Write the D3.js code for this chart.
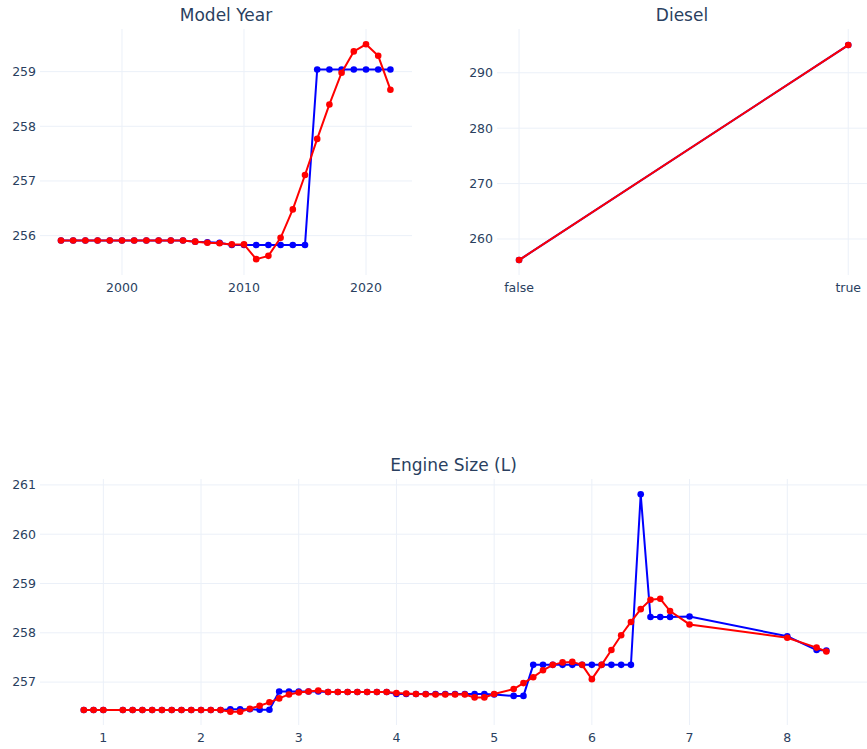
<!DOCTYPE html>
<html>
<head>
<meta charset="utf-8">
<script src="https://cdn.jsdelivr.net/npm/d3@7"></script>
<style>
  html, body { margin: 0; padding: 0; background: #fff; }
  svg { display: block; }
  text { font-family: "DejaVu Sans", verdana, sans-serif; fill: #2a3f5f; }
</style>
</head>
<body>
<svg id="chart" width="867" height="749"></svg>
<script>
// ---------- DATA ----------
const yearX = [1995,1996,1997,1998,1999,2000,2001,2002,2003,2004,2005,2006,2007,2008,2009,2010,2011,2012,2013,2014,2015,2016,2017,2018,2019,2020,2021,2022];
const yearBlue = [255.91,255.91,255.91,255.91,255.91,255.91,255.91,255.91,255.91,255.91,255.91,255.89,255.88,255.87,255.83,255.83,255.83,255.83,255.83,255.83,255.83,259.04,259.04,259.04,259.04,259.04,259.04,259.04];
const yearRed = [255.91,255.91,255.91,255.91,255.91,255.91,255.91,255.91,255.91,255.91,255.91,255.89,255.87,255.86,255.84,255.84,255.57,255.63,255.96,256.48,257.11,257.77,258.40,258.98,259.37,259.50,259.29,258.67];

const dieselX = ["false","true"];
const dieselBlue = [256.2,295.0];
const dieselRed = [256.2,295.0];

const engineX = [0.8,0.9,1.0,1.2,1.3,1.4,1.5,1.6,1.7,1.8,1.9,2.0,2.1,2.2,2.3,2.4,2.5,2.6,2.7,2.8,2.9,3.0,3.1,3.2,3.3,3.4,3.5,3.6,3.7,3.8,3.9,4.0,4.1,4.2,4.3,4.4,4.5,4.6,4.7,4.8,4.9,5.0,5.2,5.3,5.4,5.5,5.6,5.7,5.8,5.9,6.0,6.1,6.2,6.3,6.4,6.5,6.6,6.7,6.8,7.0,8.0,8.3,8.4];
const engineBlue = [256.435,256.435,256.435,256.435,256.435,256.435,256.435,256.435,256.435,256.435,256.435,256.435,256.435,256.435,256.45,256.45,256.45,256.44,256.44,256.81,256.81,256.81,256.81,256.81,256.80,256.80,256.80,256.80,256.80,256.80,256.80,256.76,256.76,256.76,256.76,256.76,256.76,256.76,256.76,256.76,256.76,256.75,256.72,256.72,257.35,257.35,257.35,257.35,257.35,257.35,257.35,257.35,257.35,257.35,257.35,260.81,258.32,258.32,258.32,258.33,257.93,257.65,257.64];
const engineRed = [256.435,256.435,256.435,256.435,256.435,256.435,256.435,256.435,256.435,256.435,256.435,256.435,256.435,256.435,256.40,256.40,256.46,256.52,256.59,256.67,256.75,256.79,256.81,256.83,256.80,256.80,256.80,256.80,256.80,256.80,256.80,256.78,256.77,256.76,256.755,256.75,256.75,256.75,256.75,256.69,256.69,256.76,256.86,256.98,257.10,257.24,257.35,257.40,257.41,257.35,257.06,257.35,257.65,257.95,258.22,258.48,258.67,258.69,258.44,258.17,257.90,257.70,257.62];

const yearTicksX = [2000,2010,2020];
const yearTicksY = [256,257,258,259];
const dieselTicksY = [260,270,280,290];
const engineTicksX = [1,2,3,4,5,6,7,8];
const engineTicksY = [257,258,259,260,261];

const titles = ["Model Year","Diesel","Engine Size (L)"];

// ---------- LAYOUT ----------
const svg = d3.select("#chart");
const gridColor = "#EBF0F8";
const blue = "#0000ff", red = "#ff0000";
const tickSize = 12.5, titleSize = 17;

function panel(opts) {
  const {left, right, top, bottom, x, y, xTicks, yTicks, title, xs, blueY, redY, xFmt} = opts;
  const g = svg.append("g");
  const clipId = "clip" + Math.round(left) + "_" + Math.round(top);
  svg.append("clipPath").attr("id", clipId)
    .append("rect").attr("x", left).attr("y", top).attr("width", right - left).attr("height", bottom - top);

  g.selectAll(".gx").data(xTicks).join("line")
    .attr("x1", d => x(d)).attr("x2", d => x(d))
    .attr("y1", top).attr("y2", bottom)
    .attr("stroke", gridColor).attr("stroke-width", 1);
  g.selectAll(".gy").data(yTicks).join("line")
    .attr("x1", left).attr("x2", right)
    .attr("y1", d => y(d)).attr("y2", d => y(d))
    .attr("stroke", gridColor).attr("stroke-width", 1);

  g.selectAll(".tx").data(xTicks).join("text")
    .attr("x", d => x(d)).attr("y", bottom + 17)
    .attr("text-anchor", "middle").attr("font-size", tickSize)
    .text(d => xFmt ? xFmt(d) : d);
  g.selectAll(".ty").data(yTicks).join("text")
    .attr("x", left - 4).attr("y", d => y(d)).attr("dy", "0.35em")
    .attr("text-anchor", "end").attr("font-size", tickSize)
    .text(d => d);

  g.append("text").attr("x", (left + right) / 2).attr("y", top - 8)
    .attr("text-anchor", "middle").attr("font-size", titleSize).text(title);

  const line = d3.line().x((d, i) => x(xs[i])).y(d => y(d));
  [[blueY, blue], [redY, red]].forEach(([vals, col]) => {
    g.append("path").datum(vals)
      .attr("d", line).attr("fill", "none")
      .attr("stroke", col).attr("stroke-width", 2)
      .attr("clip-path", `url(#${clipId})`);
    g.selectAll(null).data(vals).join("circle")
      .attr("cx", (d, i) => x(xs[i])).attr("cy", d => y(d))
      .attr("r", 3.3).attr("fill", col);
  });
}

// Model Year
{
  const left = 40, right = 412, top = 29, bottom = 275;
  const x = d3.scaleLinear().domain([1993.28, 2023.77]).range([left, right]);
  const y = d3.scaleLinear().domain([255.28, 259.78]).range([bottom, top]);
  panel({left, right, top, bottom, x, y, xTicks: yearTicksX, yTicks: yearTicksY,
    title: titles[0], xs: yearX, blueY: yearBlue, redY: yearRed, xFmt: d => String(d)});
}
// Diesel
{
  const left = 497, right = 867, top = 29, bottom = 275;
  const xi = d3.scaleLinear().domain([-0.067, 1.057]).range([left, right]);
  const x = d => xi(dieselX.indexOf(d));
  const y = d3.scaleLinear().domain([253.5, 297.9]).range([bottom, top]);
  panel({left, right, top, bottom, x, y, xTicks: dieselX, yTicks: dieselTicksY,
    title: titles[1], xs: dieselX, blueY: dieselBlue, redY: dieselRed});
}
// Engine Size
{
  const left = 40, right = 867, top = 479, bottom = 725;
  const x = d3.scaleLinear().domain([0.352, 8.816]).range([left, right]);
  const y = d3.scaleLinear().domain([256.13, 261.12]).range([bottom, top]);
  panel({left, right, top, bottom, x, y, xTicks: engineTicksX, yTicks: engineTicksY,
    title: titles[2], xs: engineX, blueY: engineBlue, redY: engineRed});
}
</script>
</body>
</html>
